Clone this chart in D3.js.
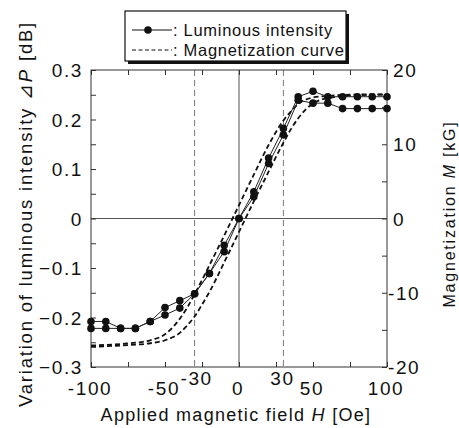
<!DOCTYPE html>
<html><head><meta charset="utf-8">
<script src="https://cdn.jsdelivr.net/npm/d3@7"></script>
<style>body{margin:0;background:#fff}svg{display:block}text{font-family:"Liberation Sans",Arial,sans-serif;fill:#111}</style>
</head><body>
<svg id="c" width="459" height="428"></svg>
<script>
// ---- data ----
const lumH = [-100,-90,-80,-70,-60,-50,-40,-30,-20,-10,0,10,20,30,40,50,60,70,80,90,100];
const lumA = [-0.208,-0.208,-0.222,-0.222,-0.208,-0.180,-0.166,-0.152,-0.111,-0.054,0,0.054,0.122,0.182,0.246,0.257,0.246,0.246,0.246,0.246,0.246];
const lumB = [-0.222,-0.222,-0.222,-0.222,-0.208,-0.195,-0.181,-0.152,-0.111,-0.067,0,0.044,0.111,0.169,0.239,0.233,0.233,0.222,0.222,0.222,0.222];
const magH_L = [-100,-80,-60,-50,-40,-35,-30,-25,-20,-10,0,10,20,30,35,40,50,60,80,100];
const magL   = [-17.1,-16.9,-16.4,-15.6,-13.5,-12.0,-10.2,-8.3,-6.3,-2.3,1.8,5.9,9.9,13.2,14.4,15.4,16.3,16.5,16.7,16.7];
const magH_R = [-100,-80,-60,-50,-40,-35,-30,-25,-20,-10,0,10,20,25,30,35,40,50,60,80,100];
const magR   = [-17.3,-17.1,-16.8,-16.4,-15.4,-14.4,-13.2,-11.6,-9.9,-5.9,-1.8,2.3,6.3,8.3,10.2,12.0,13.5,15.5,16.2,16.6,16.7];
const xTicks = [-100,-75,-50,-25,0,25,50,75,100];
const xLabels = [-100,-50,0,50,100];
const xSpecial = [-30,30];
const yLTicks = [-0.3,-0.2,-0.1,0,0.1,0.2,0.3];
const yRTicks = [-20,-10,0,10,20];

// ---- scales ----
const svg = d3.select("#c");
const x = d3.scaleLinear().domain([-100,100]).range([91,387]);
const yL = d3.scaleLinear().domain([-0.3,0.3]).range([367,70]);
const yR = d3.scaleLinear().domain([-20,20]).range([367,70]);
const L = 91, R = 387, T = 70, B = 367;

// guide lines
svg.selectAll(".vd").data(xSpecial).join("line")
  .attr("x1",d=>x(d)).attr("x2",d=>x(d)).attr("y1",T).attr("y2",B)
  .attr("stroke","#777").attr("stroke-width",1).attr("stroke-dasharray","6,4");
svg.append("line").attr("x1",x(0)).attr("x2",x(0)).attr("y1",T).attr("y2",B).attr("stroke","#555").attr("stroke-width",1);
svg.append("line").attr("x1",L).attr("x2",R).attr("y1",yL(0)).attr("y2",yL(0)).attr("stroke","#555").attr("stroke-width",1);

// axes (ticks inward)
const fmt = d => d3.format("")(+d.toFixed(2));
const tk = 5;
svg.append("g").attr("transform",`translate(0,${B})`)
  .call(d3.axisTop(x).tickValues(xTicks).tickSize(tk).tickFormat(""))
  .call(g=>g.select(".domain").remove());
svg.append("g").attr("transform",`translate(0,${T})`)
  .call(d3.axisBottom(x).tickValues(xTicks).tickSize(tk).tickFormat(""))
  .call(g=>g.select(".domain").remove());
const yMinor = d3.range(-0.3,0.301,0.05).map(v=>+v.toFixed(2));
svg.append("g").attr("transform",`translate(${L},0)`)
  .call(d3.axisRight(yL).tickValues(yMinor).tickSize(tk).tickFormat(""))
  .call(g=>g.select(".domain").remove());
svg.append("g").attr("transform",`translate(${R},0)`)
  .call(d3.axisLeft(yR).tickValues(d3.range(-20,21,5)).tickSize(tk).tickFormat(""))
  .call(g=>g.select(".domain").remove());
svg.selectAll(".tick line").attr("stroke","#333");
svg.append("rect").attr("x",L).attr("y",T).attr("width",R-L).attr("height",B-T)
  .attr("fill","none").attr("stroke","#333").attr("stroke-width",1);

// tick labels
const TF = 19, LS = 1.6;
svg.selectAll(".xl").data(xLabels).join("text")
  .attr("x",d=>x(d)-1).attr("y",395).attr("text-anchor","middle").attr("font-size",TF).attr("letter-spacing",LS).text(d=>d);
svg.selectAll(".xs").data(xSpecial).join("text")
  .attr("x",d=>x(d)+ (d<0?2:-1)).attr("y",385).attr("text-anchor","middle").attr("font-size",TF).attr("letter-spacing",LS).text(d=>d);
svg.selectAll(".yl").data(yLTicks).join("text")
  .attr("x",83).attr("y",d=>yL(d)+7).attr("text-anchor","end").attr("font-size",TF).attr("letter-spacing",LS).text(fmt);
svg.selectAll(".yr").data(yRTicks).join("text")
  .attr("x",d=>d<0?388:393).attr("y",d=>yR(d)+7).attr("text-anchor","start").attr("font-size",TF).attr("letter-spacing",LS).text(d=>d);

// axis titles
const xt = svg.append("text").attr("x",236).attr("y",421).attr("text-anchor","middle").attr("font-size",18).attr("letter-spacing",1.3);
xt.append("tspan").text("Applied magnetic field  ");
xt.append("tspan").attr("font-style","italic").text("H");
xt.append("tspan").text(" [Oe]");
const ylt = svg.append("text").attr("transform","translate(32,214) rotate(-90)").attr("text-anchor","middle").attr("font-size",18.5).attr("letter-spacing",1.8);
ylt.append("tspan").text("Variation of luminous intensity ⊿");
ylt.append("tspan").attr("font-style","italic").text("P");
ylt.append("tspan").text(" [dB]");
const yrt = svg.append("text").attr("transform","translate(455,214) rotate(-90)").attr("text-anchor","middle").attr("font-size",16).attr("letter-spacing",1.8);
yrt.append("tspan").text("Magnetization ");
yrt.append("tspan").attr("font-style","italic").text("M");
yrt.append("tspan").text(" [kG]");

// magnetization curves
const magLine = d3.line().x(d=>x(d[0])).y(d=>yR(d[1])).curve(d3.curveMonotoneX);
[[magH_L,magL],[magH_R,magR]].forEach(([hs,ms])=>{
  svg.append("path").datum(hs.map((h,i)=>[h,ms[i]])).attr("d",magLine)
    .attr("fill","none").attr("stroke","#111").attr("stroke-width",1.8).attr("stroke-dasharray","5,3");
});

// luminous intensity
const lumLine = d3.line().x(d=>x(d[0])).y(d=>yL(d[1]));
[lumA,lumB].forEach(vals=>{
  const pts = lumH.map((h,i)=>[h,vals[i]]);
  svg.append("path").datum(pts).attr("d",lumLine).attr("fill","none").attr("stroke","#222").attr("stroke-width",1);
  svg.append("g").selectAll("circle").data(pts).join("circle")
    .attr("cx",d=>x(d[0])).attr("cy",d=>yL(d[1])).attr("r",3.8).attr("fill","#111");
});

// legend
const lg = svg.append("g");
lg.append("rect").attr("x",128).attr("y",14).attr("width",221).attr("height",50).attr("fill","#111");
lg.append("rect").attr("x",125).attr("y",11).attr("width",221).attr("height",50).attr("fill","#fff").attr("stroke","#111").attr("stroke-width",1.2);
lg.append("line").attr("x1",132).attr("x2",172).attr("y1",30).attr("y2",30).attr("stroke","#111").attr("stroke-width",1.2);
lg.append("circle").attr("cx",148).attr("cy",30).attr("r",3.8).attr("fill","#111");
lg.append("text").attr("x",173).attr("y",36).attr("font-size",16.5).attr("letter-spacing",0.7).text(": Luminous intensity");
lg.append("line").attr("x1",132).attr("x2",172).attr("y1",50).attr("y2",50).attr("stroke","#111").attr("stroke-width",1.2).attr("stroke-dasharray","4,2.5");
lg.append("text").attr("x",173).attr("y",56).attr("font-size",16.5).attr("letter-spacing",0.7).text(": Magnetization curve");
</script>
</body></html>
